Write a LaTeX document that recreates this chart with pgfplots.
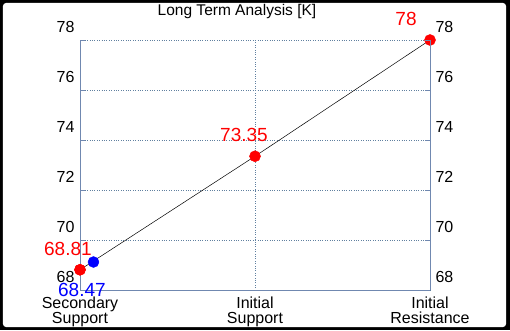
\documentclass[border=0pt]{standalone}
\usepackage{pgfplots}
\pgfplotsset{compat=1.18}
\usepackage{fontspec}
\setmainfont{Liberation Sans}
\definecolor{axcol}{HTML}{7088B0}
\definecolor{grcol}{HTML}{6080A0}
\begin{document}
\begin{tikzpicture}[x=1pt,y=1pt]
\fill[black] (-80,-40) rectangle (430,290);
\fill[white,rounded corners=3pt] (-77,-37) rectangle (426,287);
\begin{axis}[
  at={(0,0)}, anchor=south west,
  scale only axis, width=350pt, height=250pt,
  xmin=0, xmax=2, ymin=68, ymax=78,
  clip=false,
  axis line style={axcol},
  axis x line*=bottom, axis y line*=left,
  xtick={0,1,2},
  xticklabels={Secondary\\Support, Initial\\Support, Initial\\Resistance},
  xticklabel style={align=center, font=\fontsize{16}{15}\selectfont, inner sep=0pt, yshift=-7pt},
  ytick={68,70,72,74,76,78},
  yticklabel style={font=\fontsize{16}{18}\selectfont, yshift=13pt, xshift=-2pt},
  /pgf/number format/assume math mode=true,
  major tick length=5pt,
  tick style={axcol, solid},
  x tick style={draw=none},
  grid=major,
  major grid style={grcol, dotted, line width=0.7pt},
]
\addplot[black, line width=0.5pt, mark=*, mark size=5.5pt, mark options={red, draw=red, fill=red}]
  coordinates {(0,68.81) (1,73.35) (2,78)};
\addplot[only marks, mark=*, mark size=5.5pt, mark options={blue, draw=blue, fill=blue}]
  coordinates {(0.077,69.12)};
\addplot[only marks, mark=*, mark size=5.5pt, mark options={red, draw=red, fill=red}]
  coordinates {(0,68.81)};
\node[red, font=\fontsize{19}{20}\selectfont] at (axis cs:-0.069,69.66) {68.81};
\node[blue, font=\fontsize{19}{20}\selectfont] at (axis cs:0.011,68.0) {68.47};
\node[red, font=\fontsize{19}{20}\selectfont] at (axis cs:0.937,74.2) {73.35};
\node[red, font=\fontsize{19}{20}\selectfont] at (axis cs:1.863,78.86) {78};
\node[font=\fontsize{15.5}{15}\selectfont, anchor=base] at (axis cs:0.897,79.0) {Long Term Analysis [K]};
\end{axis}
\begin{axis}[
  at={(0,0)}, anchor=south west,
  scale only axis, width=350pt, height=250pt,
  xmin=0, xmax=2, ymin=68, ymax=78,
  axis line style={axcol},
  axis y line*=right, hide x axis,
  ytick={68,70,72,74,76,78},
  yticklabel style={font=\fontsize{16}{18}\selectfont, yshift=13pt, xshift=2pt},
  /pgf/number format/assume math mode=true,
  major tick length=5pt,
  tick style={axcol, solid},
]
\addplot[draw=none] coordinates {(0,70)};
\end{axis}
\pgfresetboundingbox
\path (-80,-40) rectangle (430,290);
\end{tikzpicture}
\end{document}
